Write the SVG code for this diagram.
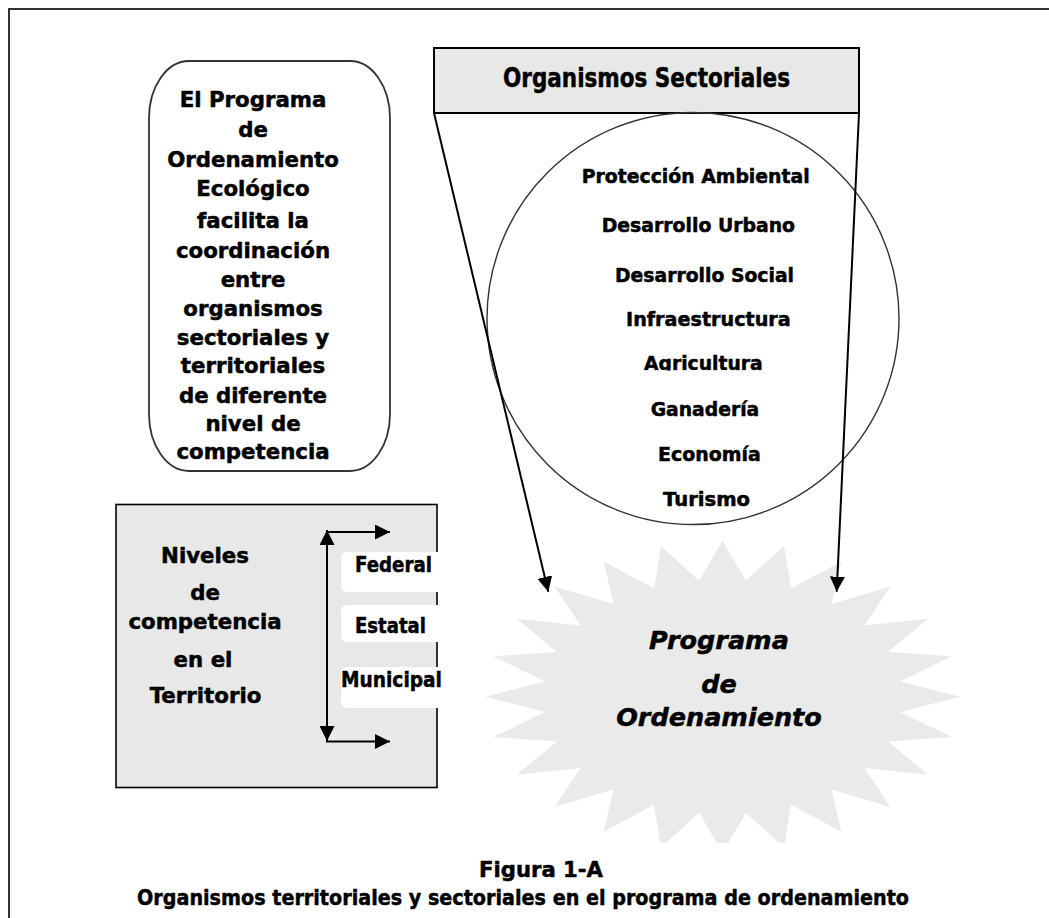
<svg xmlns="http://www.w3.org/2000/svg" width="1049" height="918" viewBox="0 0 1049 918">
<defs>
<style>
text{font-family:"DejaVu Sans","Liberation Sans",sans-serif;font-weight:bold;fill:#000;stroke:#000;stroke-width:0.5px;}
.c{text-anchor:middle;}
.box{font-size:21.3px;}
.sec{font-size:19px;}
.star{font-size:25.5px;font-style:italic;text-anchor:middle;}
.lbl{font-size:21.5px;}
.conn{stroke:#000;stroke-width:2;fill:none;}
</style>
<marker id="ah" viewBox="0 0 15 15" markerWidth="15" markerHeight="15" refX="15" refY="7.5" orient="auto-start-reverse" markerUnits="userSpaceOnUse">
<path d="M0,0 L15,7.5 L0,15 z" fill="#000"/>
</marker>
<clipPath id="starclip"><rect x="0" y="0" width="1049" height="843"/></clipPath>
<clipPath id="agclip"><rect x="600" y="340" width="200" height="30.5"/></clipPath>
</defs>
<rect width="1049" height="918" fill="#fff"/>
<g id="frame"><path d="M9,918 L9,9 L1049,9" fill="none" stroke="#333" stroke-width="2"/></g>

<g id="starburst">
<polygon clip-path="url(#starclip)" fill="#eaeaea" points="722.5,540.7 745.9,580.7 784.0,546.0 791.0,588.6 841.3,561.6 831.5,603.9 890.4,586.4 864.5,625.5 928.2,618.7 887.9,651.9 951.9,656.3 900.0,681.4 960,696.7 900.0,712.0 951.9,737.1 887.9,741.5 928.2,774.7 864.5,767.9 890.4,807.0 831.5,789.5 841.3,831.8 791.0,804.8 784.0,847.4 745.9,812.7 722.5,852.7 699.1,812.7 661.0,847.4 654.0,804.8 603.8,831.8 613.5,789.5 554.6,807.0 580.5,767.9 516.8,774.7 557.1,741.5 493.1,737.1 545.0,712.0 485,696.7 545.0,681.4 493.1,656.3 557.1,651.9 516.8,618.7 580.5,625.5 554.6,586.4 613.5,603.9 603.8,561.6 654.0,588.6 661.0,546.0 699.1,580.7"/>
<text class="star" x="719" y="649">Programa</text>
<text class="star" x="719" y="692.5">de</text>
<text class="star" x="719" y="726">Ordenamiento</text>
</g>

<g id="sectoriales-header">
<rect x="434" y="48" width="425" height="65" fill="#e8e8e8" stroke="#000" stroke-width="2"/>
<text x="503" y="87" font-size="26" textLength="287" lengthAdjust="spacingAndGlyphs">Organismos Sectoriales</text>
</g>

<g id="sectores">
<circle cx="693" cy="318.5" r="206" fill="none" stroke="#333" stroke-width="1.4"/>
<text class="sec" x="581.7" y="183" textLength="228" lengthAdjust="spacingAndGlyphs">Protección Ambiental</text>
<text class="sec" x="601.7" y="231.7" textLength="193.3" lengthAdjust="spacingAndGlyphs">Desarrollo Urbano</text>
<text class="sec" x="615" y="281.7" textLength="179" lengthAdjust="spacingAndGlyphs">Desarrollo Social</text>
<text class="sec" x="626" y="325.7" textLength="164.7" lengthAdjust="spacingAndGlyphs">Infraestructura</text>
<text class="sec" x="644" y="370" textLength="118.7" lengthAdjust="spacingAndGlyphs" clip-path="url(#agclip)">Agricultura</text>
<text class="sec" x="650.7" y="415.7" textLength="108.6" lengthAdjust="spacingAndGlyphs">Ganadería</text>
<text class="sec" x="658" y="460.7" textLength="102.7" lengthAdjust="spacingAndGlyphs">Economía</text>
<text class="sec" x="663" y="505.7" textLength="87" lengthAdjust="spacingAndGlyphs">Turismo</text>
</g>

<g id="programa-texto">
<rect x="149" y="61" width="241" height="410" rx="40" ry="57" fill="#fff" stroke="#333" stroke-width="1.8"/>
<text class="box c" x="253" y="107">El Programa</text>
<text class="box c" x="253" y="137">de</text>
<text class="box c" x="253" y="167">Ordenamiento</text>
<text class="box c" x="253" y="196">Ecológico</text>
<text class="box c" x="253" y="228">facilita la</text>
<text class="box c" x="253" y="258">coordinación</text>
<text class="box c" x="253" y="287">entre</text>
<text class="box c" x="253" y="316">organismos</text>
<text class="box c" x="253" y="345">sectoriales y</text>
<text class="box c" x="253" y="373">territoriales</text>
<text class="box c" x="253" y="403">de diferente</text>
<text class="box c" x="253" y="431">nivel de</text>
<text class="box c" x="253" y="459">competencia</text>
</g>

<g id="niveles">
<rect x="116" y="504.5" width="321" height="283" fill="#e8e8e8" stroke="#000" stroke-width="1.6"/>
<text class="box c" x="205" y="563">Niveles</text>
<text class="box c" x="205" y="600">de</text>
<text class="box c" x="205" y="629">competencia</text>
<text class="box c" x="203" y="667">en el</text>
<text class="box c" x="205.5" y="703">Territorio</text>
<rect x="341" y="552" width="103" height="40" rx="6" fill="#fff"/>
<rect x="341" y="605" width="103" height="37" rx="6" fill="#fff"/>
<rect x="341" y="667" width="103" height="41" rx="6" fill="#fff"/>
<text class="lbl" x="355" y="572" textLength="77" lengthAdjust="spacingAndGlyphs">Federal</text>
<text class="lbl" x="355" y="633" textLength="71" lengthAdjust="spacingAndGlyphs">Estatal</text>
<text class="lbl" x="341" y="687" textLength="101" lengthAdjust="spacingAndGlyphs">Municipal</text>
</g>

<g id="connectors">
<line class="conn" x1="434" y1="113" x2="548.3" y2="591.7" marker-end="url(#ah)"/>
<line class="conn" x1="859" y1="113" x2="836.7" y2="591.7" marker-end="url(#ah)"/>
<line class="conn" x1="327" y1="530" x2="327" y2="741" marker-start="url(#ah)" marker-end="url(#ah)"/>
<line class="conn" x1="326" y1="532" x2="390" y2="532" marker-end="url(#ah)"/>
<line class="conn" x1="326" y1="741.5" x2="390" y2="741.5" marker-end="url(#ah)"/>
</g>

<g id="caption">
<text x="479" y="877" font-size="21.5" textLength="124" lengthAdjust="spacingAndGlyphs">Figura 1-A</text>
<text x="137" y="905" font-size="21" textLength="772" lengthAdjust="spacingAndGlyphs">Organismos territoriales y sectoriales en el programa de ordenamiento</text>
</g>
</svg>
